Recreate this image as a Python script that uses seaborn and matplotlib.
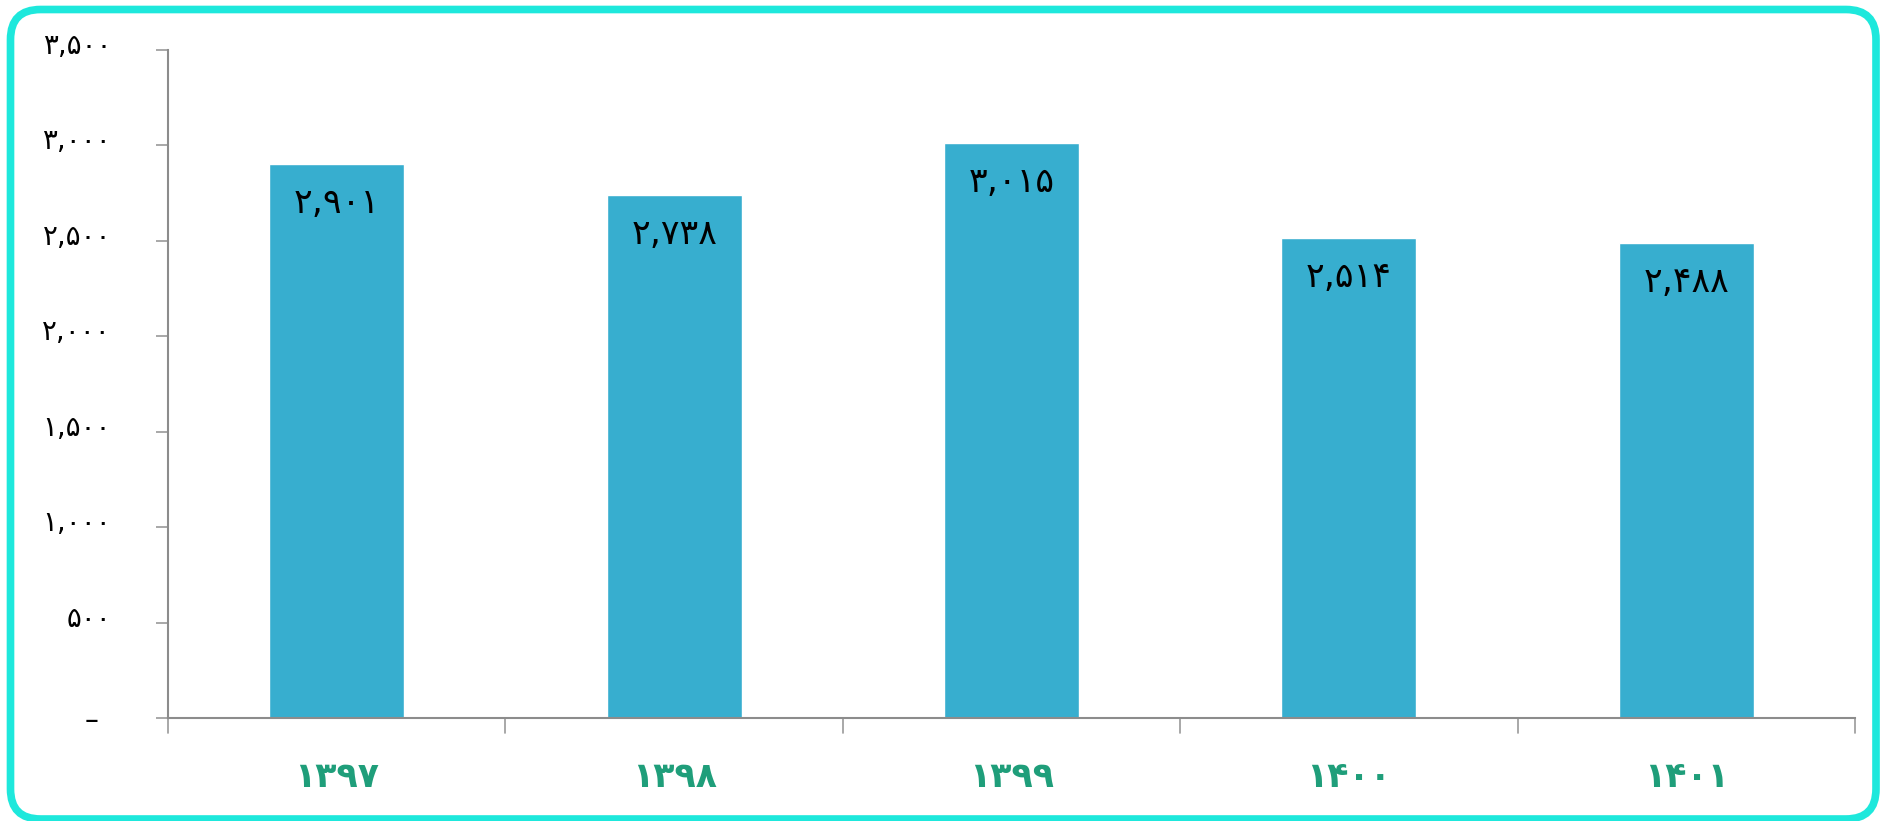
import matplotlib
matplotlib.use("Agg")
import matplotlib.pyplot as plt
import seaborn as sns
import pandas as pd
from matplotlib.patches import FancyBboxPatch
from matplotlib.transforms import ScaledTranslation

years = ["1397", "1398", "1399", "1400", "1401"]
values = [2901, 2738, 3015, 2514, 2488]
yticks = [0, 500, 1000, 1500, 2000, 2500, 3000, 3500]

FA = str.maketrans("0123456789", "۰۱۲۳۴۵۶۷۸۹")
def fa(n):
    return "{:,}".format(n).translate(FA)

sns.set_theme(style="white")
plt.rcParams["font.family"] = ["DejaVu Sans"]

df = pd.DataFrame({"year": [y.translate(FA) for y in years], "value": values})

fig = plt.figure(figsize=(18.88, 8.21), dpi=100)
ax = fig.add_axes([0.089, 0.1255, 0.8935, 0.8135])
sns.barplot(data=df, x="year", y="value", color="#37AECF", saturation=1,
            width=0.4, ax=ax)

ax.set_ylim(0, 3500)
ax.set_xlim(-0.5, len(years) - 0.5)
ax.set_yticks(yticks)
ax.set_yticklabels(["–"] + [fa(v) for v in yticks[1:]], fontsize=20, color="black")
ax.tick_params(axis="y", length=9, width=1.2, color="#999999", pad=32, left=True)
labs = ax.get_yticklabels()
for i, lab in enumerate(labs):
    if i > 0:
        lab.set_transform(lab.get_transform() + ScaledTranslation(0, 0.07, fig.dpi_scale_trans))
    else:
        lab.set_transform(lab.get_transform() + ScaledTranslation(-0.13, 0.0, fig.dpi_scale_trans))

ax.set_xticks([i for i in range(len(years))])
ax.set_xticklabels(df["year"], fontsize=25, fontweight="bold", color="#1F9E7A")
ax.tick_params(axis="x", length=0, pad=30)
for b in [i - 0.5 for i in range(len(years) + 1)]:
    ax.plot([b, b], [0, -0.022], transform=ax.get_xaxis_transform(),
            color="#999999", lw=1.2, clip_on=False)

for s in ["top", "right"]:
    ax.spines[s].set_visible(False)
for s in ["left", "bottom"]:
    ax.spines[s].set_color("#8c8c8c")
    ax.spines[s].set_linewidth(1.5)
ax.set_xlabel("")
ax.set_ylabel("")

for i, v in enumerate(values):
    ax.annotate(fa(v), (i, v), xytext=(0, -28), textcoords="offset points",
                ha="center", va="center", fontsize=25, color="black")

border = FancyBboxPatch((0.105, 0.02), 18.655, 8.095,
                        boxstyle="round,pad=0,rounding_size=0.3",
                        transform=fig.dpi_scale_trans, fill=False,
                        edgecolor="#1EE8DC", linewidth=5.5, clip_on=False)
fig.add_artist(border)

fig.savefig("out.png", dpi=100, facecolor="white")
